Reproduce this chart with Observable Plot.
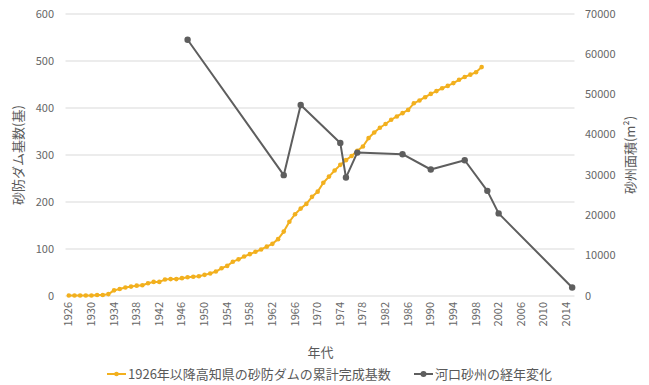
<!DOCTYPE html>
<html><head><meta charset="utf-8">
<script src="https://cdn.jsdelivr.net/npm/d3@7"></script>
<script src="https://cdn.jsdelivr.net/npm/@observablehq/plot@0.6"></script>
<style>
body{margin:0;background:#fff;font-family:"Noto Sans CJK JP","Noto Sans",sans-serif;}
#wrap{position:relative;width:649px;height:385px;}
.leg{position:absolute;top:365px;height:18px;line-height:18px;font-size:13px;color:#595959;display:flex;align-items:center;white-space:nowrap;}
.leg svg{margin-right:2px;}
</style></head><body>
<div id="wrap"><div id="chart"></div>
<div class="leg" style="left:107px"><svg width="19" height="10"><line x1="0" y1="5" x2="19" y2="5" stroke="#F2B01E" stroke-width="2"/><circle cx="9.5" cy="5" r="2.3" fill="#F2B01E"/></svg><span id="l1"></span></div>
<div class="leg" style="left:414px"><svg width="19" height="10"><line x1="0" y1="5" x2="19" y2="5" stroke="#5E5E5E" stroke-width="2"/><circle cx="9.5" cy="5" r="3" fill="#5E5E5E"/></svg><span id="l2"></span></div>
</div>
<script>
// ---- data ----
const seriesNames = ["1926年以降高知県の砂防ダムの累計完成基数", "河口砂州の経年変化"];
const damYears = [1926,1927,1928,1929,1930,1931,1932,1933,1934,1935,1936,1937,1938,1939,1940,1941,1942,1943,1944,1945,1946,1947,1948,1949,1950,1951,1952,1953,1954,1955,1956,1957,1958,1959,1960,1961,1962,1963,1964,1965,1966,1967,1968,1969,1970,1971,1972,1973,1974,1975,1976,1977,1978,1979,1980,1981,1982,1983,1984,1985,1986,1987,1988,1989,1990,1991,1992,1993,1994,1995,1996,1997,1998,1999];
const damCounts = [1,1,1,1,1,2,2,4,12,15,18,20,22,23,27,30,30,35,36,36,38,40,41,42,45,48,52,59,64,73,78,84,89,94,99,105,111,121,137,158,174,186,196,211,222,241,254,267,279,289,298,309,318,336,348,358,366,375,382,389,396,410,416,423,430,436,442,447,453,460,466,471,476,487];
const barYears = [1947,1964,1967,1974,1975,1977,1985,1990,1996,2000,2002,2015];
const barAreas = [63600,30000,47400,38000,29400,35600,35200,31400,33700,26100,20500,2100];
const xTickYears = [1926,1930,1934,1938,1942,1946,1950,1954,1958,1962,1966,1970,1974,1978,1982,1986,1990,1994,1998,2002,2006,2010,2014];
const leftTicks = [0,100,200,300,400,500,600];
const rightTicks = [0,10000,20000,30000,40000,50000,60000,70000];
const xTitle = "年代";
const leftTitle = "砂防ダム基数(基)";
const rightTitle = "砂州面積(m²)";

const yellow = "#F2B01E", grey = "#5E5E5E", textCol = "#666666";
const k = 600 / 70000; // right axis -> left axis units
const dams = damYears.map((y,i)=>({year:y, count:damCounts[i]}));
const bars = barYears.map((y,i)=>({year:y, area:barAreas[i]}));
const font = '"Noto Sans CJK JP", "Noto Sans", sans-serif';

const chart = Plot.plot({
  width:649, height:362,
  marginLeft:65.5, marginRight:74.5, marginTop:13.5, marginBottom:66.5,
  style:{fontFamily:font, fontSize:"11px", color:textCol, background:"#fff", overflow:"visible"},
  x:{domain:[1925.5,2015.5]},
  y:{domain:[0,600]},
  marks:[
    Plot.gridY(leftTicks, {stroke:"#d9d9d9", strokeOpacity:1, strokeWidth:1}),
    Plot.axisY(leftTicks, {anchor:"left", tickSize:0, tickPadding:12, label:null, fill:textCol}),
    Plot.axisY(rightTicks.map(v=>v*k), {anchor:"right", tickSize:0, tickPadding:10, label:null, fill:textCol, tickFormat:d=>String(Math.round(d/k))}),
    Plot.axisX(xTickYears, {anchor:"bottom", tickSize:0, tickPadding:6, tickRotate:-90, label:null, fill:textCol, tickFormat:d=>String(d)}),
    Plot.text([xTitle], {frameAnchor:"bottom", dy:56.5, fontSize:13, fill:"#595959", textAnchor:"middle", lineAnchor:"middle"}),
    Plot.text([leftTitle], {frameAnchor:"left", dx:-47, rotate:-90, fontSize:13, fill:"#595959", textAnchor:"middle", lineAnchor:"middle"}),
    Plot.text([rightTitle], {frameAnchor:"right", dx:55.5, rotate:-90, fontSize:13, fill:"#595959", textAnchor:"middle", lineAnchor:"middle"}),
    Plot.line(dams, {x:"year", y:"count", stroke:yellow, strokeWidth:2}),
    Plot.dot(dams, {x:"year", y:"count", r:2.3, fill:yellow, stroke:"none"}),
    Plot.line(bars, {x:"year", y:d=>d.area*k, stroke:grey, strokeWidth:2}),
    Plot.dot(bars, {x:"year", y:d=>d.area*k, r:3.2, fill:grey, stroke:"none"})
  ]
});
document.getElementById("chart").append(chart);
document.getElementById("l1").textContent = seriesNames[0];
document.getElementById("l2").textContent = seriesNames[1];
</script>
</body></html>
